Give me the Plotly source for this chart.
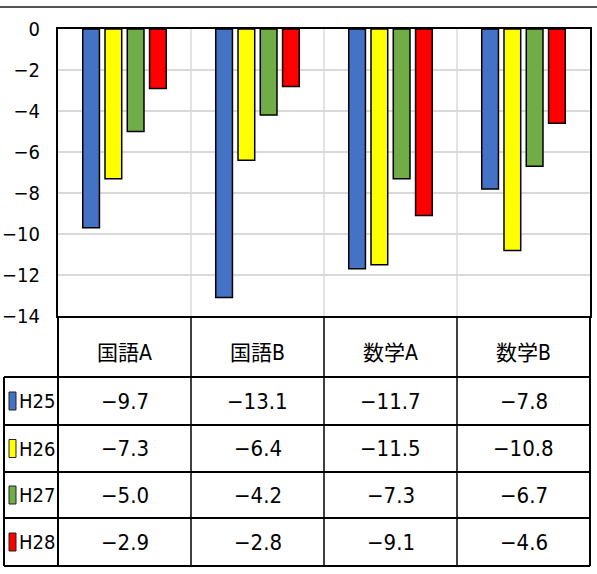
import plotly.graph_objects as go

categories = ["国語A", "国語B", "数学A", "数学B"]
series_names = ["H25", "H26", "H27", "H28"]
h25 = [-9.7, -13.1, -11.7, -7.8]
h26 = [-7.3, -6.4, -11.5, -10.8]
h27 = [-5.0, -4.2, -7.3, -6.7]
h28 = [-2.9, -2.8, -9.1, -4.6]
series_values = [h25, h26, h27, h28]
colors = ["#4472C4", "#FFFF00", "#70AD47", "#FF0000"]
y_ticks = [0, -2, -4, -6, -8, -10, -12, -14]

W, H = 597, 574
L, R, T, B = 58, 590, 29, 316   # plot area in pixels

def px(x):
    return (x - L) / (R - L)

def py(y):
    return (B - y) / (B - T)

FONT = "DejaVu Sans Condensed, Liberation Sans Narrow, Noto Sans CJK JP, sans-serif"
xs = list(range(len(categories)))

fig = go.Figure()
for name, vals, col in zip(series_names, series_values, colors):
    fig.add_trace(go.Bar(x=xs, y=vals, name=name, marker=dict(color=col, line=dict(color="black", width=1.5))))

shapes = []
annotations = []
line = dict(color="black", width=2)

# top gray frame line
shapes.append(dict(type="line", xref="paper", yref="paper", x0=px(0), x1=px(W), y0=py(7), y1=py(7),
                   line=dict(color="#555555", width=2)))
# vertical category separators in plot area
for i in range(1, len(categories)):
    shapes.append(dict(type="line", xref="x", yref="paper", x0=i - 0.5, x1=i - 0.5, y0=0, y1=1,
                       line=dict(color="#C8C8C8", width=1), layer="below"))

# table geometry (pixels)
row_edges = [316, 377, 425, 472, 518, 566]
left_col = 4

# horizontal table lines
for ye in row_edges[1:]:
    shapes.append(dict(type="line", xref="paper", yref="paper", x0=px(left_col), x1=px(R), y0=py(ye), y1=py(ye), line=line))
# vertical table lines
shapes.append(dict(type="line", xref="paper", yref="paper", x0=px(left_col), x1=px(left_col), y0=py(row_edges[1]), y1=py(row_edges[-1]), line=line))
shapes.append(dict(type="line", xref="paper", yref="paper", x0=px(L), x1=px(L), y0=py(row_edges[0]), y1=py(row_edges[-1]), line=line))
shapes.append(dict(type="line", xref="paper", yref="paper", x0=px(R), x1=px(R), y0=py(row_edges[0]), y1=py(row_edges[-1]), line=line))
for i in range(1, len(categories)):
    shapes.append(dict(type="line", xref="x", yref="paper", x0=i - 0.5, x1=i - 0.5,
                       y0=py(row_edges[0]), y1=py(row_edges[-1]), line=dict(color="black", width=1.5)))

# header
for i, c in enumerate(categories):
    annotations.append(dict(x=i, xref="x", y=py((row_edges[0] + row_edges[1]) / 2 + 6), yref="paper",
                            xanchor="center", yanchor="middle",
                            text=c, showarrow=False, font=dict(family=FONT, size=21, color="black")))

# rows
for r, (name, vals, col) in enumerate(zip(series_names, series_values, colors)):
    yc = (row_edges[r + 1] + row_edges[r + 2]) / 2
    shapes.append(dict(type="rect", xref="paper", yref="paper", x0=px(9), x1=px(16),
                       y0=py(yc - 9), y1=py(yc + 9), fillcolor=col, line=dict(color="#222222", width=1)))
    annotations.append(dict(x=px(17), xref="paper", y=py(yc), yref="paper", xanchor="left", yanchor="middle",
                            text=name, showarrow=False, font=dict(family=FONT, size=20, color="black")))
    for i, v in enumerate(vals):
        annotations.append(dict(x=i, xref="x", y=py(yc), yref="paper", xanchor="center", yanchor="middle",
                                text=f"{v:.1f}".replace("-", "\u2212"), showarrow=False,
                                font=dict(family=FONT, size=22, color="black")))

fig.update_layout(
    width=W, height=H,
    margin=dict(l=L, r=W - R, t=T, b=H - B, autoexpand=False),
    paper_bgcolor="white", plot_bgcolor="white",
    barmode="group", bargap=0.33, bargroupgap=0.25,
    showlegend=False,
    shapes=shapes, annotations=annotations,
    xaxis=dict(range=[-0.5, len(categories) - 0.5], showticklabels=False, showgrid=False, zeroline=False,
               showline=True, linecolor="black", linewidth=2, mirror=True, fixedrange=True, automargin=False),
    yaxis=dict(range=[-14, 0], tickvals=y_ticks, ticktext=[str(t).replace("-", "\u2212") for t in y_ticks],
               showgrid=True, gridcolor="#D9D9D9", gridwidth=2, zeroline=False,
               showline=True, linecolor="black", linewidth=2, mirror=True, automargin=False,
               tickfont=dict(family=FONT, size=20, color="black"), ticklabelstandoff=12, fixedrange=True),
)

fig.write_html("out.html", config={"displayModeBar": False},
               post_script="document.body.style.margin='0';")
